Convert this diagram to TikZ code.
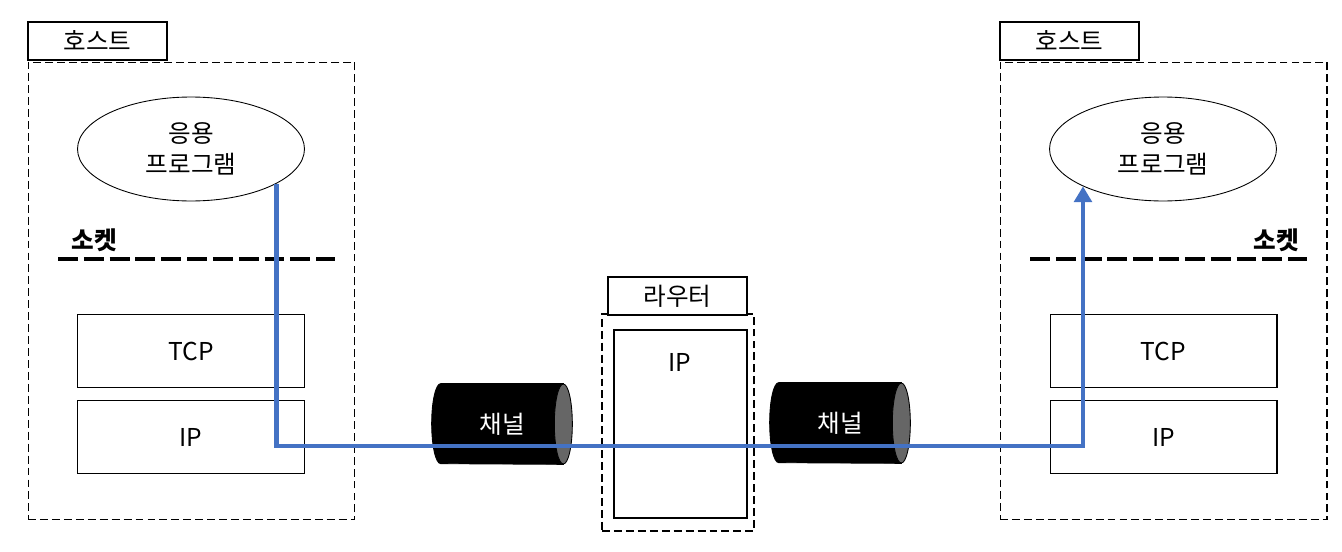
\documentclass[tikz,border=0pt]{standalone}
\usepackage{fontspec}
\setmainfont{Noto Sans CJK KR}
\usepackage{xcolor}
\usepackage{tikz}
\usetikzlibrary{arrows.meta, positioning, calc, shapes.geometric}
\pgfdeclarelayer{background}
\pgfsetlayers{background,main}
\definecolor{flowblue}{HTML}{4472C4}
\definecolor{capgray}{HTML}{666666}
\tikzset{
    netdiagram/.style={x=0.02cm, y=-0.02cm, font=\fontsize{14}{17.5}\selectfont},
    hostbox/.style={draw, dash pattern=on 4.5pt off 2.3pt, line width=0.6pt, minimum width=6.54cm, minimum height=9.16cm, inner sep=0pt},
    tagbox/.style={draw, line width=0.6pt, fill=white, minimum width=2.78cm, minimum height=0.76cm, inner sep=0pt},
    app/.style={draw, ellipse, line width=0.5pt, minimum width=4.54cm, minimum height=2.08cm, inner sep=0pt, align=center},
    layer/.style={draw, line width=0.6pt, minimum width=4.54cm, minimum height=1.46cm, inner sep=0pt},
    channel/.style={minimum width=2.44cm, minimum height=1.6cm, inner sep=0pt, text=white},
    % thick dashed line for the socket boundary
    socketline/.style={line width=2.8pt, dash pattern=on 11.3pt off 3.4pt},
    flow/.style={flowblue, line width=2.8pt, -{Triangle[length=9pt, width=10pt]}},
}
\newcommand{\pipebody}[1]{%
    \filldraw[line width=0.5pt] (#1.north east) -- (#1.north west)
        arc[start angle=90, end angle=270, x radius=0.18cm, y radius=0.8cm] -- (#1.south east) -- cycle;
    \draw[fill=capgray, line width=0.5pt] (#1.east) ellipse[x radius=0.18cm, y radius=0.8cm];
}
\begin{document}
\begin{tikzpicture}[netdiagram]
    \useasboundingbox (0,0) rectangle (1342,551);

    % left host
    \node[hostbox] (hostL) at (191.5,291) {};
    \node[tagbox] (tagL) at (97.5,41) {호스트};
    \node[app] (appL) at (191,149) {응용\\프로그램};
    \node[font=\fontsize{14}{17.5}\selectfont\bfseries] (sockL) at (94,240) {소켓};
    \draw[socketline] (58,259) -- (335,259);
    \node[layer] (tcpL) at (191,351) {TCP};
    \node[layer] (ipL) at (191,437) {IP};

    % router
    \node[draw, dash pattern=on 4.5pt off 2.3pt, line width=0.6pt, minimum width=3.04cm, minimum height=4.34cm] (router) at (678,422.5) {};
    \node[tagbox] (tagM) at (677.5,296) {라우터};
    \node[layer, minimum width=2.66cm, minimum height=3.76cm] (ipM) at (680.5,424) {};
    \node (ipMtext) at (680,362) {IP};

    % channels
    \node[channel] (chL) at (502,424) {채널};
    \node[channel] (chR) at (840,423) {채널};
    \begin{pgfonlayer}{background}
        \pipebody{chL}
        \pipebody{chR}
    \end{pgfonlayer}

    % right host
    \node[hostbox] (hostR) at (1163.5,291) {};
    \node[tagbox] (tagR) at (1069.5,41) {호스트};
    \node[app] (appR) at (1163,149) {응용\\프로그램};
    \node[font=\fontsize{14}{17.5}\selectfont\bfseries] (sockR) at (1276,240) {소켓};
    \draw[socketline] (1030,259) -- (1307,259);
    \node[layer] (tcpR) at (1163.5,351) {TCP};
    \node[layer] (ipR) at (1163.5,437) {IP};

    % data path
    \coordinate (low) at (0,446);
    \draw[flow] (appL.-22) -- (appL.-22 |- low) -- (appR.-155 |- low) -- (appR.-155);
\end{tikzpicture}
\end{document}
